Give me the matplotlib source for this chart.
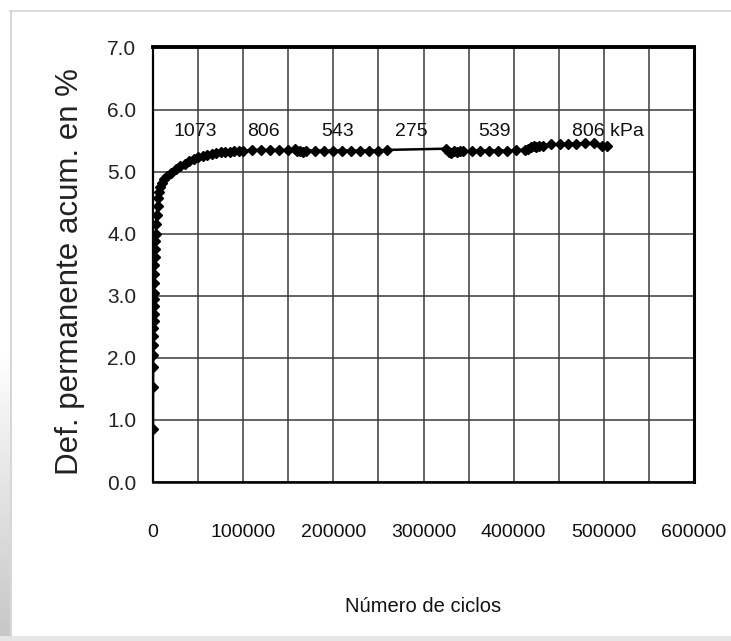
import numpy as np
import matplotlib.pyplot as plt
from matplotlib import font_manager
from matplotlib.patches import Rectangle
from matplotlib.lines import Line2D

# Fuente estrecha si existe, si no la normal
def pick_font(name, fallback='DejaVu Sans'):
    try:
        font_manager.findfont(name, fallback_to_default=False)
        return name
    except Exception:
        return fallback

narrow = pick_font('Liberation Sans Narrow', pick_font('Liberation Sans'))
regular = pick_font('Liberation Sans')
tam = 16.5 if narrow.endswith('Narrow') else 14

# Número de ciclos y deformación permanente acumulada (%)
ciclos = [10, 50, 100, 200, 300, 400, 500, 600, 700, 800, 900, 1000,
          1200, 1400, 1600, 1800, 2000, 2500, 3000, 3500, 4000, 5000,
          6000, 7000, 8000, 10000, 12000, 15000, 20000, 25000, 30000,
          35000, 40000, 45000, 50000, 55000, 60000, 65000, 70000, 75000,
          80000, 85000, 90000, 95000, 100000,
          110000, 120000, 130000, 140000, 150000, 157000, 160000, 163000,
          166000, 170000, 180000, 190000, 200000, 210000, 220000, 230000,
          240000, 250000, 259000,
          325000, 328000, 331000, 334000, 337000, 340000, 344000, 354000,
          363000, 373000, 383000, 393000, 403000, 413000, 416000, 419000,
          422000, 425000, 428000, 432000, 441000, 451000, 460000, 469000,
          479000, 489000, 498000, 503000]
deformacion = [0.86, 1.53, 1.85, 2.04, 2.2, 2.35, 2.48, 2.6, 2.71, 2.84,
               2.95, 3.05, 3.2, 3.35, 3.5, 3.62, 3.75, 3.88, 4.0, 4.15,
               4.3, 4.45, 4.58, 4.68, 4.75, 4.82, 4.88, 4.93, 4.98, 5.04,
               5.09, 5.13, 5.17, 5.2, 5.23, 5.25, 5.27, 5.29, 5.3, 5.31,
               5.32, 5.32, 5.33, 5.33, 5.34,
               5.35, 5.35, 5.35, 5.35, 5.35, 5.36, 5.33, 5.34, 5.32, 5.34,
               5.34, 5.34, 5.34, 5.34, 5.34, 5.34, 5.34, 5.34, 5.35,
               5.37, 5.32, 5.3, 5.34, 5.31, 5.33, 5.33, 5.33, 5.34, 5.34,
               5.34, 5.34, 5.35, 5.35, 5.37, 5.39, 5.41, 5.4, 5.42, 5.42,
               5.44, 5.44, 5.45, 5.45, 5.46, 5.46, 5.41, 5.41]

# Tensiones de cada etapa (kPa)
etapas = ['1073', '806', '543', '275', '539', '806 kPa']
etapa_x = [47000, 122000, 205000, 287000, 379000, 505000]
etapa_y = 5.65

yticks = np.arange(0, 7.01, 1.0)
xticks = np.arange(0, 600001, 100000)

fig = plt.figure(figsize=(7.31, 6.41), dpi=100)
ax = fig.add_axes([153 / 731, 1 - 482 / 641, 541 / 731, 434.5 / 641])

ax.plot(ciclos, deformacion, color='black', lw=1.8, zorder=3)
# los puntos de la etapa de 275 kPa no se marcan
n_mark = 64
ax.plot(ciclos[:n_mark], deformacion[:n_mark], ls='none', marker='D',
        ms=5, color='black', zorder=4)
ax.plot(ciclos[n_mark:], deformacion[n_mark:], ls='none', marker='D',
        ms=5, color='black', zorder=4)

ax.set_xlim(0, 600000)
ax.set_ylim(0, 7.0)
ax.set_xticks(xticks)
ax.set_xticks(np.arange(50000, 600000, 100000), minor=True)
ax.set_xticklabels([f'{int(v)}' for v in xticks])
ax.set_yticks(yticks)
ax.set_yticklabels([f'{v:.1f}' for v in yticks])
ax.grid(True, which='both', color='#3a3a3a', lw=1.1)
ax.tick_params(axis='both', which='both', length=0)
ax.tick_params(axis='x', pad=30, labelsize=tam, labelcolor='#111111')
ax.tick_params(axis='y', pad=12, labelsize=tam + 1, labelcolor='#222222')
for lab in ax.get_xticklabels() + ax.get_yticklabels():
    lab.set_fontfamily(narrow)

ax.spines['top'].set_linewidth(2.8)
ax.spines['right'].set_linewidth(2.2)
ax.spines['left'].set_linewidth(1.6)
ax.spines['bottom'].set_linewidth(1.8)

for txt, xv in zip(etapas, etapa_x):
    ax.text(xv, etapa_y, txt, ha='center', va='center', fontsize=tam,
            family=narrow, color='#111111', zorder=5)

fig.text(423 / 731, 1 - 607 / 641, 'Número de ciclos', ha='center',
         va='center', fontsize=tam + 0.5, family=narrow, color='#111111')
fig.text(70 / 731, 1 - 272 / 641, 'Def. permanente acum. en %',
         rotation=90, ha='center', va='center', fontsize=22.5,
         family=regular, color='#222222')

# borde gris de la hoja
fig.add_artist(Line2D([10 / 731, 1], [1 - 11 / 641] * 2, color='#d6d6d6',
                      lw=1.2, transform=fig.transFigure))
fig.add_artist(Line2D([11 / 731] * 2, [5 / 641, 1 - 11 / 641],
                      color='#cfcfcf', lw=1.2, transform=fig.transFigure))
fig.add_artist(Rectangle((0, 0), 1, 5 / 641, color='#e6e6e6', lw=0,
                         transform=fig.transFigure))
sombra = fig.add_axes([0, 5 / 641, 10 / 731, 0.45])
sombra.imshow(np.linspace(0.78, 1.0, 100)[::-1].reshape(-1, 1) * [[1]],
              cmap='gray', vmin=0, vmax=1, aspect='auto', origin='upper')
sombra.axis('off')

fig.savefig('out.png', dpi=100)
